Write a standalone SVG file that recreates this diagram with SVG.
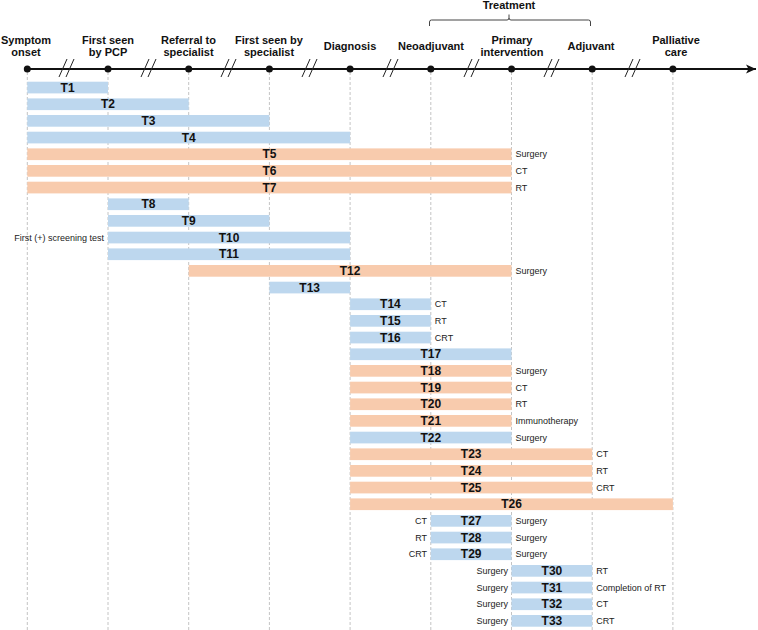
<svg xmlns="http://www.w3.org/2000/svg" width="758" height="630" viewBox="0 0 758 630">
<style>
.hd{font-family:"Liberation Sans",Arial,sans-serif;font-size:11px;font-weight:bold;fill:#111;text-anchor:middle}
.tl{font-family:"Liberation Sans",Arial,sans-serif;font-size:12px;font-weight:bold;fill:#111;text-anchor:middle}
.sd{font-family:"Liberation Sans",Arial,sans-serif;font-size:9px;fill:#222}
.ed{text-anchor:end}
.b{fill:#bdd7ee}
.o{fill:#f8cbad}
.grid{stroke:#c4c4c4;stroke-width:1;stroke-dasharray:3 2;fill:none}
.brk{stroke:#222;stroke-width:1;fill:none}
.dot{fill:#111}
</style>
<defs>
<marker id="arr" markerWidth="12" markerHeight="10" refX="10" refY="5" orient="auto" markerUnits="userSpaceOnUse">
<path d="M0,0.5 L10,5 L0,9.5 L2.5,5 Z" fill="#111"/>
</marker>
</defs>
<rect width="758" height="630" fill="#fff"/>
<g id="grid">
<line class="grid" x1="27.3" y1="72" x2="27.3" y2="630"/>
<line class="grid" x1="108" y1="72" x2="108" y2="630"/>
<line class="grid" x1="188.7" y1="72" x2="188.7" y2="630"/>
<line class="grid" x1="269.4" y1="72" x2="269.4" y2="630"/>
<line class="grid" x1="350.1" y1="72" x2="350.1" y2="630"/>
<line class="grid" x1="430.8" y1="72" x2="430.8" y2="630"/>
<line class="grid" x1="511.5" y1="72" x2="511.5" y2="630"/>
<line class="grid" x1="592.2" y1="72" x2="592.2" y2="630"/>
<line class="grid" x1="672.9" y1="72" x2="672.9" y2="630"/>
</g>
<g id="timeline">
<line x1="27.3" y1="69" x2="756" y2="69" stroke="#111" stroke-width="2" marker-end="url(#arr)"/>
<g class="brk">
<path d="M59,77 L67,59 M66,77 L74,59"/>
<path d="M141,77 L149,59 M148,77 L156,59"/>
<path d="M221,77 L229,59 M228,77 L236,59"/>
<path d="M302,77 L310,59 M309,77 L317,59"/>
<path d="M383,77 L391,59 M390,77 L398,59"/>
<path d="M464,77 L472,59 M471,77 L479,59"/>
<path d="M544,77 L552,59 M551,77 L559,59"/>
<path d="M625,77 L633,59 M632,77 L640,59"/>
</g>
<circle class="dot" cx="27.3" cy="69" r="3.5"/>
<circle class="dot" cx="108" cy="69" r="3.5"/>
<circle class="dot" cx="188.7" cy="69" r="3.5"/>
<circle class="dot" cx="269.4" cy="69" r="3.5"/>
<circle class="dot" cx="350.1" cy="69" r="3.5"/>
<circle class="dot" cx="430.8" cy="69" r="3.5"/>
<circle class="dot" cx="511.5" cy="69" r="3.5"/>
<circle class="dot" cx="592.2" cy="69" r="3.5"/>
<circle class="dot" cx="672.9" cy="69" r="3.5"/>
</g>
<g id="headers">
<text class="hd" x="26" y="43.5">Symptom</text><text class="hd" x="26" y="56">onset</text>
<text class="hd" x="108" y="43.5">First seen</text><text class="hd" x="108" y="56">by PCP</text>
<text class="hd" x="188.5" y="43.5">Referral to</text><text class="hd" x="188.5" y="56">specialist</text>
<text class="hd" x="269" y="43.5">First seen by</text><text class="hd" x="269" y="56">specialist</text>
<text class="hd" x="350" y="50">Diagnosis</text>
<text class="hd" x="431" y="50">Neoadjuvant</text>
<text class="hd" x="512" y="43.5">Primary</text><text class="hd" x="512" y="56">intervention</text>
<text class="hd" x="591" y="50">Adjuvant</text>
<text class="hd" x="676" y="43.5">Palliative</text><text class="hd" x="676" y="56">care</text>
</g>
<g id="treatment">
<path d="M429.5,26 V22 Q429.5,20 431.5,20 H507 Q509,20 509,18 V14.5 M509,18 Q509,20 511,20 H588.5 Q590.5,20 590.5,22 V26" stroke="#444" stroke-width="1" fill="none"/>
<text class="hd" x="509" y="9">Treatment</text>
</g>
<g id="T1"><rect class="b" x="27.3" y="81.7" width="80.7" height="11.7"/><text class="tl" x="67.6" y="91.7">T1</text></g>
<g id="T2"><rect class="b" x="27.3" y="98.4" width="161.4" height="11.7"/><text class="tl" x="108" y="108.4">T2</text></g>
<g id="T3"><rect class="b" x="27.3" y="115" width="242.1" height="11.7"/><text class="tl" x="148.4" y="125">T3</text></g>
<g id="T4"><rect class="b" x="27.3" y="131.7" width="322.8" height="11.7"/><text class="tl" x="188.7" y="141.7">T4</text></g>
<g id="T5"><rect class="o" x="27.3" y="148.4" width="484.2" height="11.7"/><text class="tl" x="269.4" y="158.4">T5</text><text class="sd" x="515.5" y="157.4">Surgery</text></g>
<g id="T6"><rect class="o" x="27.3" y="165" width="484.2" height="11.7"/><text class="tl" x="269.4" y="175">T6</text><text class="sd" x="515.5" y="174">CT</text></g>
<g id="T7"><rect class="o" x="27.3" y="181.7" width="484.2" height="11.7"/><text class="tl" x="269.4" y="191.7">T7</text><text class="sd" x="515.5" y="190.7">RT</text></g>
<g id="T8"><rect class="b" x="108" y="198.4" width="80.7" height="11.7"/><text class="tl" x="148.4" y="208.4">T8</text></g>
<g id="T9"><rect class="b" x="108" y="215" width="161.4" height="11.7"/><text class="tl" x="188.7" y="225">T9</text></g>
<g id="T10"><rect class="b" x="108" y="231.7" width="242.1" height="11.7"/><text class="tl" x="229" y="241.7">T10</text><text class="sd ed" x="104" y="240.7">First (+) screening test</text></g>
<g id="T11"><rect class="b" x="108" y="248.4" width="242.1" height="11.7"/><text class="tl" x="229" y="258.4">T11</text></g>
<g id="T12"><rect class="o" x="188.7" y="265" width="322.8" height="11.7"/><text class="tl" x="350.1" y="275">T12</text><text class="sd" x="515.5" y="274">Surgery</text></g>
<g id="T13"><rect class="b" x="269.4" y="281.7" width="80.7" height="11.7"/><text class="tl" x="309.7" y="291.7">T13</text></g>
<g id="T14"><rect class="b" x="350.1" y="298.4" width="80.7" height="11.7"/><text class="tl" x="390.4" y="308.4">T14</text><text class="sd" x="434.8" y="307.4">CT</text></g>
<g id="T15"><rect class="b" x="350.1" y="315" width="80.7" height="11.7"/><text class="tl" x="390.4" y="325">T15</text><text class="sd" x="434.8" y="324">RT</text></g>
<g id="T16"><rect class="b" x="350.1" y="331.7" width="80.7" height="11.7"/><text class="tl" x="390.4" y="341.7">T16</text><text class="sd" x="434.8" y="340.7">CRT</text></g>
<g id="T17"><rect class="b" x="350.1" y="348.4" width="161.4" height="11.7"/><text class="tl" x="430.8" y="358.4">T17</text></g>
<g id="T18"><rect class="o" x="350.1" y="365" width="161.4" height="11.7"/><text class="tl" x="430.8" y="375">T18</text><text class="sd" x="515.5" y="374">Surgery</text></g>
<g id="T19"><rect class="o" x="350.1" y="381.7" width="161.4" height="11.7"/><text class="tl" x="430.8" y="391.7">T19</text><text class="sd" x="515.5" y="390.7">CT</text></g>
<g id="T20"><rect class="o" x="350.1" y="398.4" width="161.4" height="11.7"/><text class="tl" x="430.8" y="408.4">T20</text><text class="sd" x="515.5" y="407.4">RT</text></g>
<g id="T21"><rect class="o" x="350.1" y="415" width="161.4" height="11.7"/><text class="tl" x="430.8" y="425">T21</text><text class="sd" x="515.5" y="424">Immunotherapy</text></g>
<g id="T22"><rect class="b" x="350.1" y="431.7" width="161.4" height="11.7"/><text class="tl" x="430.8" y="441.7">T22</text><text class="sd" x="515.5" y="440.7">Surgery</text></g>
<g id="T23"><rect class="o" x="350.1" y="448.4" width="242.1" height="11.7"/><text class="tl" x="471.2" y="458.4">T23</text><text class="sd" x="596.2" y="457.4">CT</text></g>
<g id="T24"><rect class="o" x="350.1" y="465" width="242.1" height="11.7"/><text class="tl" x="471.2" y="475">T24</text><text class="sd" x="596.2" y="474">RT</text></g>
<g id="T25"><rect class="o" x="350.1" y="481.7" width="242.1" height="11.7"/><text class="tl" x="471.2" y="491.7">T25</text><text class="sd" x="596.2" y="490.7">CRT</text></g>
<g id="T26"><rect class="o" x="350.1" y="498.4" width="322.8" height="11.7"/><text class="tl" x="511.5" y="508.4">T26</text></g>
<g id="T27"><rect class="b" x="430.8" y="515" width="80.7" height="11.7"/><text class="tl" x="471.2" y="525">T27</text><text class="sd ed" x="427" y="524">CT</text><text class="sd" x="515.5" y="524">Surgery</text></g>
<g id="T28"><rect class="b" x="430.8" y="531.7" width="80.7" height="11.7"/><text class="tl" x="471.2" y="541.7">T28</text><text class="sd ed" x="427" y="540.7">RT</text><text class="sd" x="515.5" y="540.7">Surgery</text></g>
<g id="T29"><rect class="b" x="430.8" y="548.4" width="80.7" height="11.7"/><text class="tl" x="471.2" y="558.4">T29</text><text class="sd ed" x="427" y="557.4">CRT</text><text class="sd" x="515.5" y="557.4">Surgery</text></g>
<g id="T30"><rect class="b" x="511.5" y="565" width="80.7" height="11.7"/><text class="tl" x="551.9" y="575">T30</text><text class="sd ed" x="508" y="574">Surgery</text><text class="sd" x="596.2" y="574">RT</text></g>
<g id="T31"><rect class="b" x="511.5" y="581.7" width="80.7" height="11.7"/><text class="tl" x="551.9" y="591.7">T31</text><text class="sd ed" x="508" y="590.7">Surgery</text><text class="sd" x="596.2" y="590.7">Completion of RT</text></g>
<g id="T32"><rect class="b" x="511.5" y="598.4" width="80.7" height="11.7"/><text class="tl" x="551.9" y="608.4">T32</text><text class="sd ed" x="508" y="607.4">Surgery</text><text class="sd" x="596.2" y="607.4">CT</text></g>
<g id="T33"><rect class="b" x="511.5" y="615" width="80.7" height="11.7"/><text class="tl" x="551.9" y="625">T33</text><text class="sd ed" x="508" y="624">Surgery</text><text class="sd" x="596.2" y="624">CRT</text></g>
</svg>
